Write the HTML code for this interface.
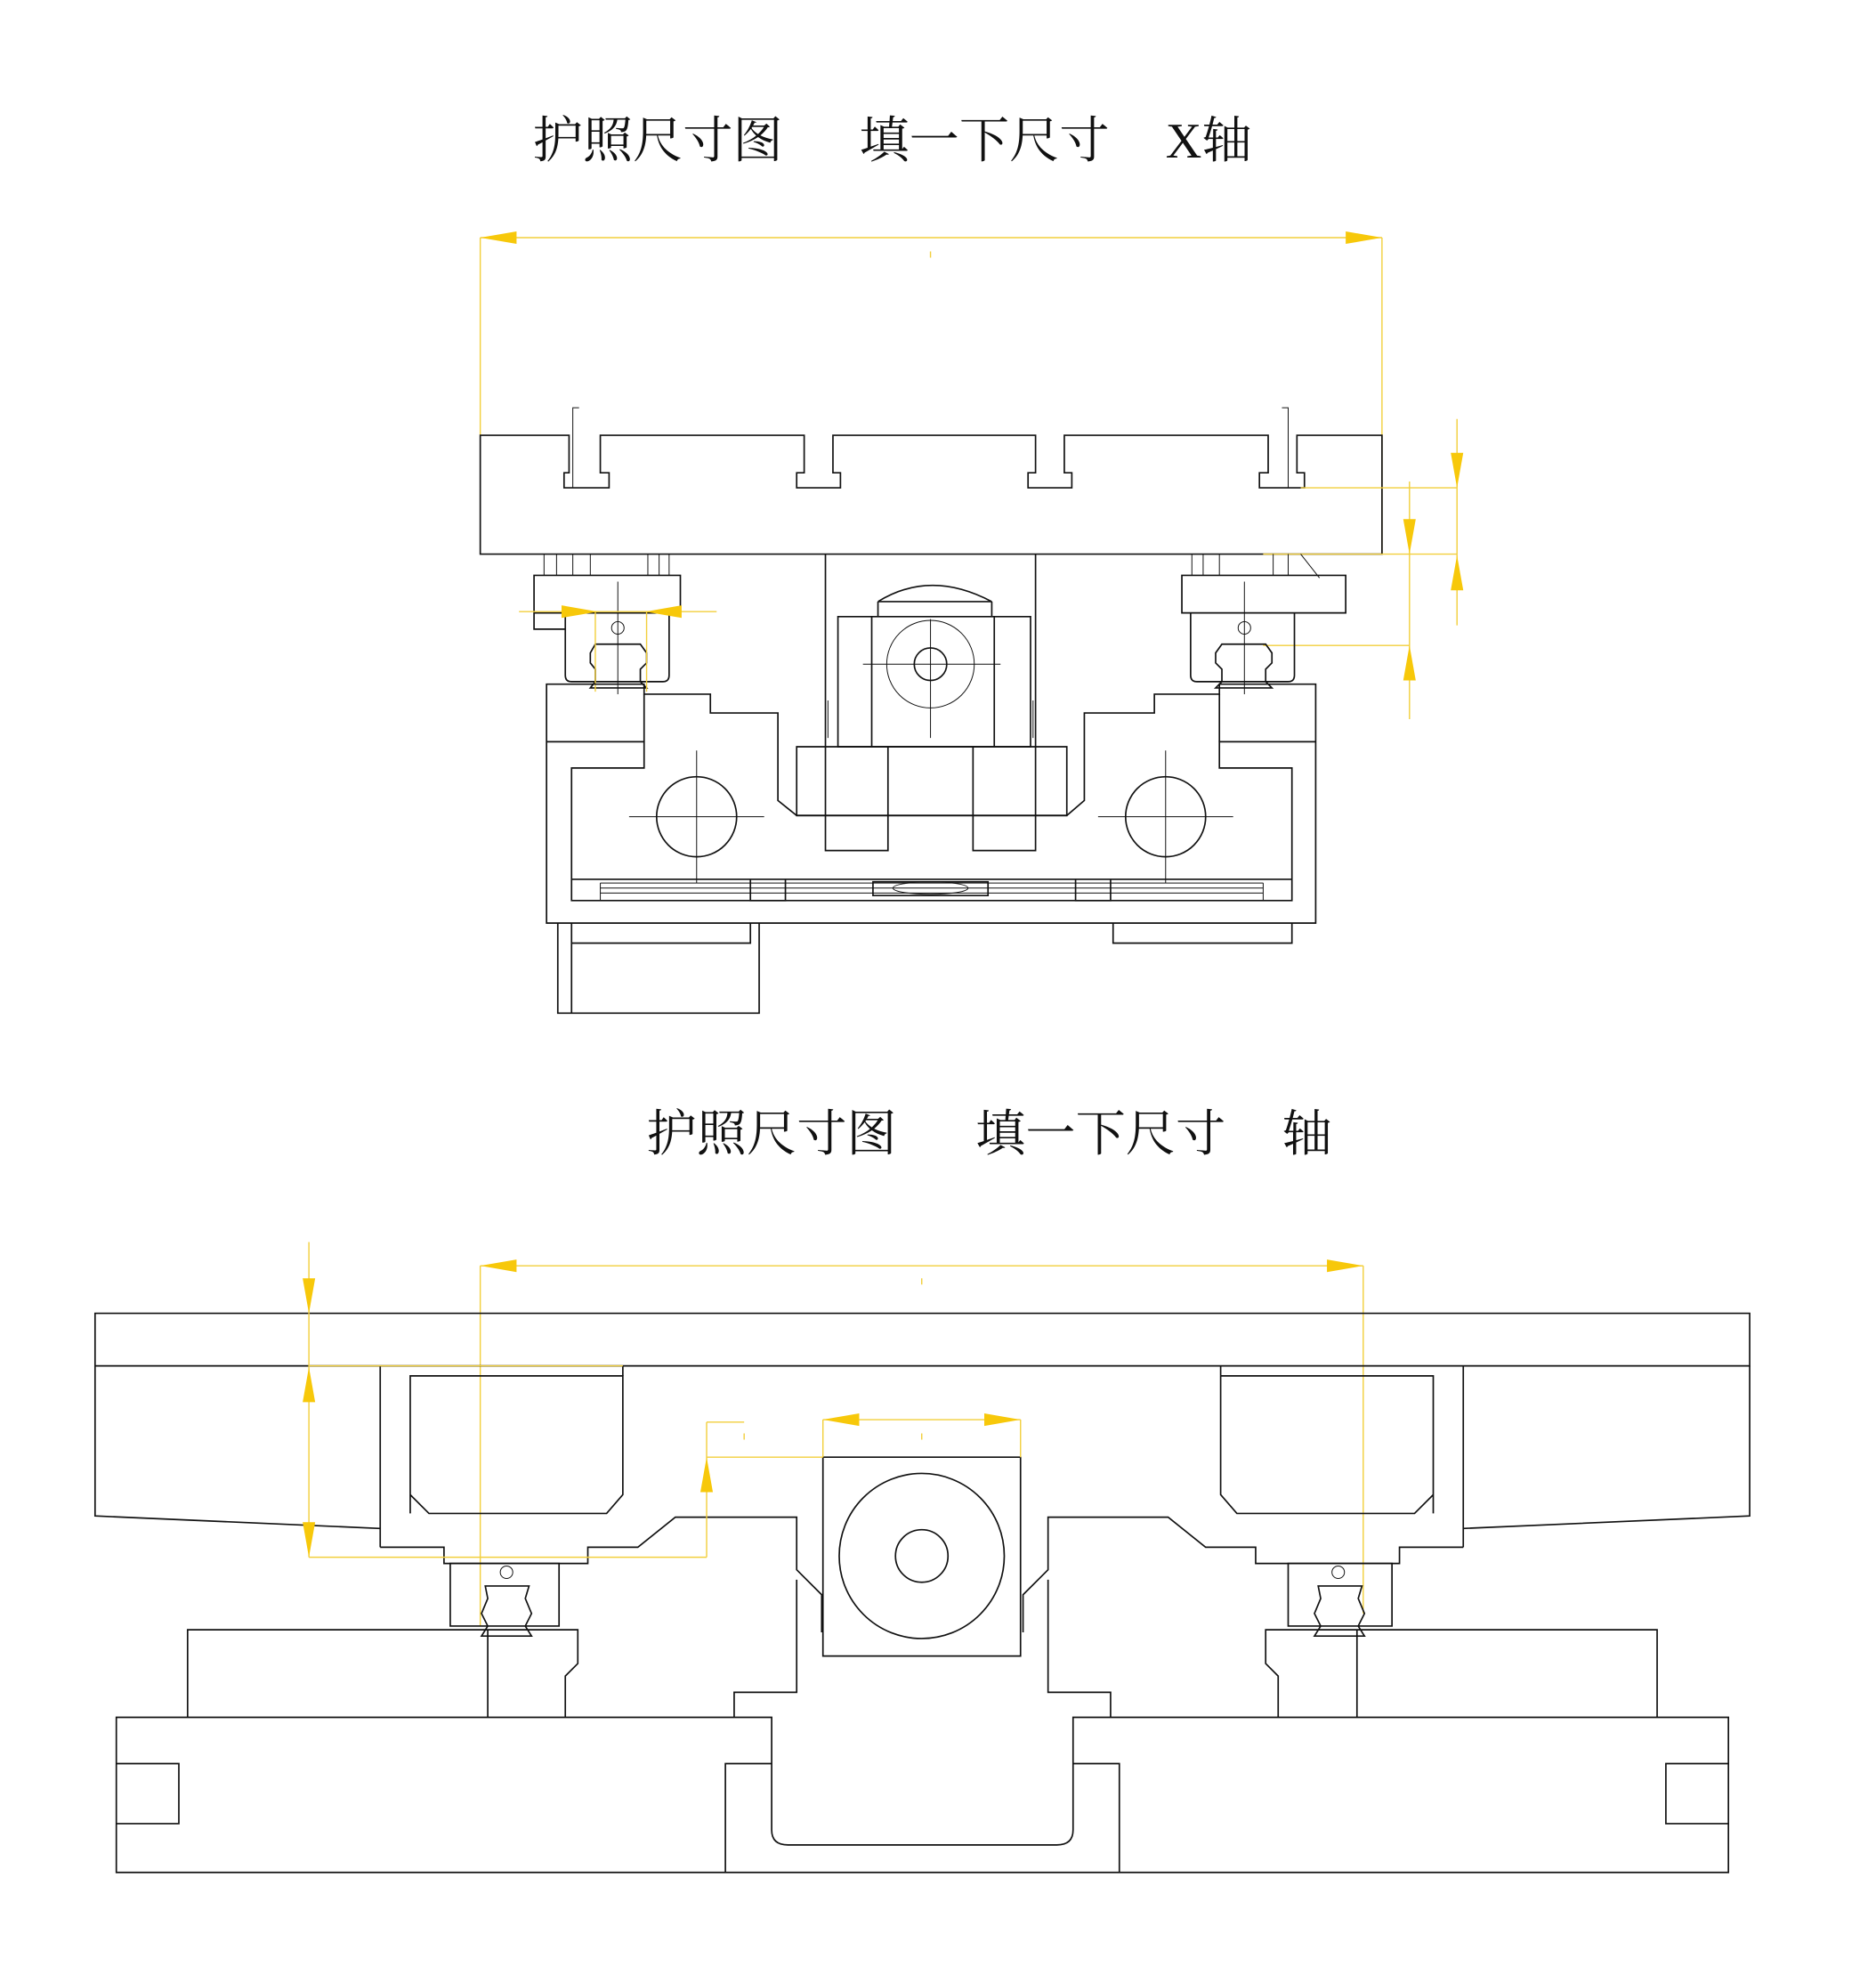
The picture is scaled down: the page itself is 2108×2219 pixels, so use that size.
<!DOCTYPE html>
<html><head><meta charset="utf-8"><style>
html,body{margin:0;padding:0;background:#fff}
svg{display:block}
text{font-family:"Liberation Serif","Noto Serif CJK SC","Noto Sans CJK SC",serif;fill:#111}
.k{fill:none;stroke:#111;stroke-width:1.2}
.t{fill:none;stroke:#111;stroke-width:0.7}
.y{fill:none;stroke:#f2cf3c;stroke-width:1}
.a{fill:#f7c80a;stroke:none}
</style></head><body>
<svg width="2108" height="2219" viewBox="0 0 1500 1579" xmlns="http://www.w3.org/2000/svg">
<!-- TITLES -->
<text x="426" y="126" font-size="40" textLength="200">护照尺寸图</text>
<text x="687" y="126" font-size="40" textLength="200">填一下尺寸</text>
<text x="932" y="126" font-size="40">X轴</text>
<text x="517" y="920" font-size="40" textLength="200">护照尺寸图</text>
<text x="780" y="920" font-size="40" textLength="200">填一下尺寸</text>
<text x="1025" y="920" font-size="40">轴</text>

<!-- ===== TOP VIEW ===== -->
<!-- top dim -->
<path class="y" d="M384 190H1105M384 190V348M1105 190V443M744 201v5"/>
<polygon class="a" points="384,190 413,185 413,195"/>
<polygon class="a" points="1105,190 1076,185 1076,195"/>
<!-- table -->
<path class="k" d="M384 348H455V378H451V390H487V378H480V348H643V378H637V390H672V378H666V348H828V378H822V390H857V378H851V348H1014V378H1007V390H1043V378H1037V348H1105V443H384Z"/>
<path class="t" d="M458 390V326H463M1030 390V326H1025"/>
<!-- right dims -->
<path class="y" d="M1165 335V500M1040 390H1165M1127 385V575M1010 443H1165M1010 516H1127"/>
<polygon class="a" points="1165,390 1160,362 1170,362"/>
<polygon class="a" points="1165,444 1160,472 1170,472"/>
<polygon class="a" points="1127,443 1122,415 1132,415"/>
<polygon class="a" points="1127,516 1122,544 1132,544"/>
<!-- left carriage assembly -->
<path class="k" d="M427 460H544V490H427ZM427 490V503H452M452 490V540Q452 545 457 545H530Q535 545 535 540V490"/>
<path class="t" d="M435 443V460M445 443V460M458 443V460M472 443V460M518 443V460M527 443V460M535 443V460M494 465V555"/>
<path class="k" d="M476 515H512L517 522V530L512 535V545L517 550H472L476 545V535L472 530V522Z"/>
<circle class="t" cx="494" cy="502" r="5"/>
<path class="y" d="M415 489H573M476 489V553M517 489V553"/>
<polygon class="a" points="478,489 449,484 449,494"/>
<polygon class="a" points="516,489 545,484 545,494"/>
<!-- right carriage assembly -->
<path class="k" d="M945 460H1076V490H945ZM952 490V540Q952 545 957 545H1030Q1035 545 1035 540V490H1041"/>
<path class="t" d="M953 443V460M962 443V460M975 443V460M1018 443V460M1030 443V460M995 465V555M1040 443L1055 462"/>
<path class="k" d="M977 515H1012L1017 522V530L1012 535V545L1017 550H972L977 545V535L972 530V522Z"/>
<circle class="t" cx="995" cy="502" r="5"/>
<!-- center column / motor -->
<path class="k" d="M660 443V597M828 443V597M670 493H824V597H670ZM697 493V597M795 493V597M702 481H793M702 481V493M793 481V493"/>
<path class="k" d="M702 481Q744 455 793 481"/>
<path class="t" d="M662 560V590M826 560V590M744 495V590M690 531H800"/>
<circle class="t" cx="744" cy="531" r="35"/>
<circle class="k" cx="744" cy="531" r="13" stroke-width="3"/>
<!-- base body -->
<path class="k" d="M437 547H515V555H568V570H622V640L637 652H853L867 640V570H923V555H975V547H1052V738H437Z"/>
<path class="k" d="M437 593H515V614H457V720M1052 593H975V614H1033V720M457 703H1033V720H457Z"/>
<path class="k" d="M637 597H853V652H637ZM660 597H710V680H660ZM778 597H828V680H778Z"/>
<path class="k" d="M515 555V593M975 555V593"/>
<circle class="k" cx="557" cy="653" r="32"/>
<circle class="k" cx="932" cy="653" r="32"/>
<path class="t" d="M503 653H611M557 600V706M878 653H986M932 600V706"/>
<path class="t" d="M480 706H1010M480 710H1010M480 714H1010M480 706V720M1010 706V720"/>
<path class="k" d="M600 703V720H628V703M860 703V720H888V703M698 705H790V716H698Z"/>
<ellipse class="t" cx="744" cy="710" rx="30" ry="5"/>
<!-- motor below -->
<path class="k" d="M446 738V810H607V738M457 738V810M457 754H600V738M890 738V754H1033V738"/>

<!-- ===== BOTTOM VIEW ===== -->
<path class="y" d="M384 1012H1090M384 1012V1300M1090 1012V1290M737 1022v5"/>
<polygon class="a" points="384,1012 413,1007 413,1017"/>
<polygon class="a" points="1090,1012 1061,1007 1061,1017"/>
<!-- table band -->
<path class="k" d="M76 1050H1399V1092H76Z"/>
<path class="k" d="M76 1092V1212L304 1222M304 1092V1237M1399 1092V1212L1170 1222M1170 1092V1237"/>
<!-- center structure -->
<path class="k" d="M304 1237H355V1250H470V1237H510L540 1213H637V1255L657 1275V1305M1170 1237H1119V1250H1004V1237H964L934 1213H838V1255L818 1275V1305"/>
<path class="k" d="M328 1100H498V1195L485 1210H343L328 1195ZM328 1100V1210M976 1100H1146V1210M976 1100V1195L989 1210H1131L1146 1195"/>
<path class="k" d="M498 1092V1100M976 1092V1100"/>
<path class="k" d="M658 1165H816V1324H658Z"/>
<circle class="k" cx="737" cy="1244" r="66"/>
<circle class="k" cx="737" cy="1244" r="21"/>
<!-- yellow bottom dims -->
<path class="y" d="M247 993V1245M247 1092H498M247 1245H565M565 1137V1245M565 1137H595M565 1165H658M658 1135H816M658 1135V1165M816 1135V1165M737 1146v5M595 1146v5"/>
<polygon class="a" points="247,1050 242,1022 252,1022"/>
<polygon class="a" points="247,1093 242,1121 252,1121"/>
<polygon class="a" points="247,1245 242,1217 252,1217"/>
<polygon class="a" points="565,1165 560,1193 570,1193"/>
<polygon class="a" points="658,1135 687,1130 687,1140"/>
<polygon class="a" points="816,1135 787,1130 787,1140"/>
<!-- carriages -->
<path class="k" d="M360 1250H447V1300H360ZM1030 1250H1113V1300H1030Z"/>
<path class="k" d="M388 1268H423L420 1278L425 1290L420 1300L425 1308H385L390 1300L385 1290L390 1278Z"/>
<path class="k" d="M1054 1268H1089L1086 1278L1091 1290L1086 1300L1091 1308H1051L1056 1300L1051 1290L1056 1278Z"/>
<circle class="t" cx="405" cy="1257" r="5"/>
<circle class="t" cx="1070" cy="1257" r="5"/>
<!-- lower blocks -->
<path class="k" d="M150 1373V1303H462V1330L452 1340V1373M390 1303V1373M1325 1373V1303H1012V1330L1022 1340V1373M1085 1303V1373"/>
<path class="k" d="M637 1263V1353H587V1373M838 1263V1353H888V1373"/>
<!-- base -->
<path class="k" d="M93 1373H617V1463Q617 1475 630 1475H845Q858 1475 858 1463V1373H1382V1497H93Z"/>
<path class="k" d="M580 1497V1410H617M895 1497V1410H858M93 1410H143V1458H93M1382 1410H1332V1458H1382"/>
</svg>
</body></html>
